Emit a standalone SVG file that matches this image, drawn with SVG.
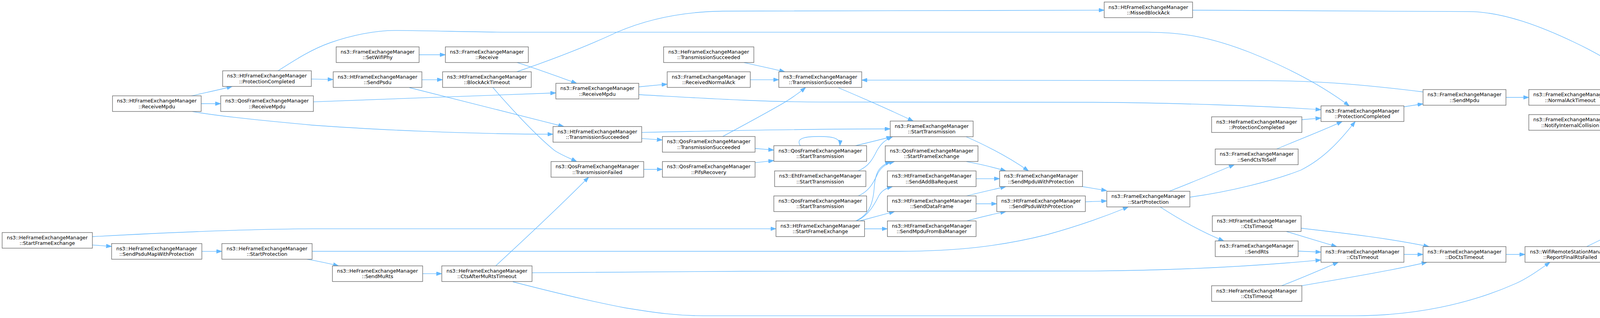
<svg xmlns="http://www.w3.org/2000/svg" width="4669" height="813" viewBox="0 0 4669 813">
<style>
.n rect{fill:#ffffff;stroke:#666666;stroke-width:1.33}
.t rect{fill:#999999;stroke:#666666;stroke-width:1.33}
text{font-family:"DejaVu Sans","Liberation Sans",sans-serif;font-size:12.75px;fill:#000000;text-anchor:middle}
.e path{fill:none;stroke:#63b8ff;stroke-width:1.33;marker-end:url(#ah)}
</style>
<defs>
<marker id="ah" markerUnits="userSpaceOnUse" markerWidth="14" markerHeight="10" refX="14" refY="5" orient="auto" viewBox="0 0 14 10">
<path d="M0,0 L14,5 L0,10 z" fill="#63b8ff" stroke="#63b8ff" stroke-width="1"/>
</marker>
</defs>
<rect width="4669" height="813" fill="#ffffff"/>
<g id="edges" class="e">
<path d="M4356,301 C4400,317 4460,338 4508,359"/>
<path d="M4062,630.5 C4200,563 4380,475 4515,400"/>
<path d="M4126,261.5 L4184.5,267.5"/>
<path d="M4126,300.7 L4184.5,295"/>
<path d="M3053,26 C3400,28 3600,29 3760,29.6 C3850,30 3950,70 4030,108 C4120,150 4200,205 4273,260.8"/>
<path d="M3855.2,650.5 L3904,650.5"/>
<path d="M1313,720.5 C1420,748 1520,772 1600,787 C1680,800 1730,807 1800,807.3 L3470,807.3 C3620,807 3760,778 3880,725 C3910,712 3940,690 3968,670.5"/>
<path d="M3855.2,249 L3913.7,249"/>
<path d="M3594,273 L3643,265.5"/>
<path d="M3643,235 C3520,220 3400,207 3250,206.4 L2206,204.8"/>
<path d="M711.7,181 C760,150 800,125 846,109 C900,90 960,78 1010,77.8 C1100,78 1200,82 1300,82.4 L2940,82.4 C3030,83 3100,95 3200,134 C3290,170 3380,215 3454,270.6"/>
<path d="M1635.5,242 C1800,251 1950,260.8 2100,260.8 L2800,261.5 C3000,263 3250,271 3381.7,280.5"/>
<path d="M3046,504 C3150,490 3260,462 3330,435 C3390,405 3430,360 3469.5,310.6"/>
<path d="M3268,381 C3330,355 3390,332 3436,310.6"/>
<path d="M3332,306 L3381.7,301.8"/>
<path d="M2993,489 C3050,467 3110,442 3160,421"/>
<path d="M2970,529 C3010,555 3070,590 3133,616"/>
<path d="M3293.5,592 C3340,606 3380,618 3422,630.5"/>
<path d="M3330.7,583.5 C3450,597 3560,610 3658,630.5"/>
<path d="M3323,642 L3381.7,644.5"/>
<path d="M3280.7,730.5 C3330,712 3380,690 3426,670.5"/>
<path d="M3332,730.5 C3440,712 3560,692 3653,670.5"/>
<path d="M3594,650.5 L3643,650.5"/>
<path d="M1362,697.4 C1500,695.5 1700,693.5 1900,693.5 L2800,692.8 C3000,691 3200,682 3381.7,664.7"/>
<path d="M236.7,605 C400,596 600,586 800,584.8 L1986.5,584.8"/>
<path d="M236.7,626.3 L285.7,630"/>
<path d="M516.3,642.6 L568,642.6"/>
<path d="M799,642.5 L2300,642.5 C2450,642 2560,630 2680,600 C2760,578 2830,553 2888.5,529"/>
<path d="M785.7,662.6 C810,667 840,673 866.7,679.7"/>
<path d="M1082,699.7 L1131,699.7"/>
<path d="M1269,679.7 C1320,632 1400,560 1507,453"/>
<path d="M1262,224 C1300,268 1370,345 1420,385 C1440,398 1460,405 1476.4,413"/>
<path d="M1323,183.5 C1420,150 1510,115 1580,82 C1650,52 1740,30 1850,28.5 L2826.7,26"/>
<path d="M1072.3,140 L1140.2,140"/>
<path d="M1323.4,159.7 C1380,178 1440,200 1476.4,213"/>
<path d="M802.4,260.3 L1423,237.5"/>
<path d="M489.8,245.2 C520,238 560,230 594.4,221"/>
<path d="M514.3,265 L565,265"/>
<path d="M492.3,285.2 C560,296.6 650,306 800,320 C950,331 1200,343 1415.7,343.2"/>
<path d="M797,202.2 L853,203.2"/>
<path d="M1080,203.8 L1133,203.8"/>
<path d="M1048,224 C1150,250 1300,287 1443.3,323.5"/>
<path d="M1635.5,222 L1708,215.2"/>
<path d="M1904.9,160.2 C1940,168 1975,175 2009,183.5"/>
<path d="M1920.7,203.8 L1993.7,203.8"/>
<path d="M1850,349 C1900,322 1960,290 2004,264.4 C2025,252 2045,238 2062.5,223.5"/>
<path d="M2146.7,224.5 C2200,247 2280,282 2338,309.5"/>
<path d="M1642.7,338.6 C1900,333 2100,329.5 2279,329.5"/>
<path d="M1642.7,354.1 L1695.7,357.8"/>
<path d="M1933,379.5 L1981,383.7"/>
<path d="M1647.8,433 L1695.7,433"/>
<path d="M1933,415.8 L1981,410.6"/>
<path d="M2049,372.5 C2035,352 2065,349 2097,349 C2130,349 2152,352 2150,372.5"/>
<path d="M2189.3,372.7 C2220,365 2250,358 2283,349.5"/>
<path d="M2196.7,437 C2225,425 2235,405 2245,385 C2255,368 2265,358 2285,349.5"/>
<path d="M2196.7,501 C2228,488 2238,462 2248,442 C2258,425 2270,418 2290,412.8"/>
<path d="M2190,565 C2225,550 2235,520 2238,480 C2241,440 2250,425 2280,412.8"/>
<path d="M2193,565 C2225,550 2240,520 2250,500 C2258,487 2268,481 2285,477"/>
<path d="M2200,565 C2230,557 2260,549 2290,540.9"/>
<path d="M2213.3,585 L2271.7,585"/>
<path d="M2472,349 C2520,370 2580,400 2633,437"/>
<path d="M2474.2,413.2 C2510,420 2545,428 2575,437"/>
<path d="M2498.7,456.8 L2559,456.8"/>
<path d="M2474.2,500.9 C2510,492 2545,484 2575,477"/>
<path d="M2498.7,521 L2551.7,521"/>
<path d="M2474.2,564.8 C2510,555 2545,547 2575,540.9"/>
<path d="M2771,477 L2833.4,487.4"/>
<path d="M2778.3,515.9 L2833.4,513.8"/>
</g>
<g id="node-HeSFE" class="n"><rect x="5.5" y="594.5" width="231" height="40"/><text x="121" y="611.8">ns3::HeFrameExchangeManager</text><text x="121" y="626">::StartFrameExchange</text></g>
<g id="node-HtRM" class="n"><rect x="288" y="245" width="227" height="40"/><text x="401.5" y="262.3">ns3::HtFrameExchangeManager</text><text x="401.5" y="276.5">::ReceiveMpdu</text></g>
<g id="node-HeSPMWP" class="n"><rect x="285.7" y="622.7" width="231" height="40"/><text x="401.2" y="640">ns3::HeFrameExchangeManager</text><text x="401.2" y="654.2">::SendPsduMapWithProtection</text></g>
<g id="node-HtPC" class="n"><rect x="570" y="181" width="227" height="40"/><text x="683.5" y="198.3">ns3::HtFrameExchangeManager</text><text x="683.5" y="212.5">::ProtectionCompleted</text></g>
<g id="node-QosRM" class="n"><rect x="565" y="245" width="237.3" height="40"/><text x="683.6" y="262.3">ns3::QosFrameExchangeManager</text><text x="683.6" y="276.5">::ReceiveMpdu</text></g>
<g id="node-HeSP" class="n"><rect x="568" y="622.7" width="231" height="40"/><text x="683.5" y="640">ns3::HeFrameExchangeManager</text><text x="683.5" y="654.2">::StartProtection</text></g>
<g id="node-SetWifiPhy" class="n"><rect x="860.6" y="119.8" width="212.3" height="40"/><text x="966.7" y="137.1">ns3::FrameExchangeManager</text><text x="966.7" y="151.3">::SetWifiPhy</text></g>
<g id="node-SendPsdu" class="n"><rect x="853" y="183.5" width="227" height="40"/><text x="966.5" y="200.8">ns3::HtFrameExchangeManager</text><text x="966.5" y="215">::SendPsdu</text></g>
<g id="node-SendMuRts" class="n"><rect x="851" y="679.7" width="231" height="40"/><text x="966.5" y="697">ns3::HeFrameExchangeManager</text><text x="966.5" y="711.2">::SendMuRts</text></g>
<g id="node-Receive" class="n"><rect x="1140.2" y="119.8" width="212.3" height="40"/><text x="1246.3" y="137.1">ns3::FrameExchangeManager</text><text x="1246.3" y="151.3">::Receive</text></g>
<g id="node-BAT" class="n"><rect x="1133" y="183.5" width="227" height="40"/><text x="1246.5" y="200.8">ns3::HtFrameExchangeManager</text><text x="1246.5" y="215">::BlockAckTimeout</text></g>
<g id="node-CtsAMRT" class="n"><rect x="1131" y="679.7" width="231" height="40"/><text x="1246.5" y="697">ns3::HeFrameExchangeManager</text><text x="1246.5" y="711.2">::CtsAfterMuRtsTimeout</text></g>
<g id="node-FemRM" class="n"><rect x="1423" y="213" width="212.3" height="40"/><text x="1529.1" y="230.3">ns3::FrameExchangeManager</text><text x="1529.1" y="244.5">::ReceiveMpdu</text></g>
<g id="node-HtTS" class="n"><rect x="1415.7" y="323.5" width="227" height="40"/><text x="1529.2" y="340.8">ns3::HtFrameExchangeManager</text><text x="1529.2" y="355">::TransmissionSucceeded</text></g>
<g id="node-QosTF" class="n"><rect x="1410.6" y="413" width="237.3" height="40"/><text x="1529.2" y="430.3">ns3::QosFrameExchangeManager</text><text x="1529.2" y="444.5">::TransmissionFailed</text></g>
<g id="node-HeTS" class="n"><rect x="1698.8" y="119.8" width="231" height="40"/><text x="1814.3" y="137.1">ns3::HeFrameExchangeManager</text><text x="1814.3" y="151.3">::TransmissionSucceeded</text></g>
<g id="node-RNA" class="n"><rect x="1708" y="183.5" width="212.7" height="40"/><text x="1814.3" y="200.8">ns3::FrameExchangeManager</text><text x="1814.3" y="215">::ReceivedNormalAck</text></g>
<g id="node-QosTS" class="n"><rect x="1695.7" y="349" width="237.3" height="40"/><text x="1814.3" y="366.3">ns3::QosFrameExchangeManager</text><text x="1814.3" y="380.5">::TransmissionSucceeded</text></g>
<g id="node-PifsRec" class="n"><rect x="1695.7" y="413" width="237.3" height="40"/><text x="1814.3" y="430.3">ns3::QosFrameExchangeManager</text><text x="1814.3" y="444.5">::PifsRecovery</text></g>
<g id="node-FemTS" class="n"><rect x="1993.7" y="183.5" width="212.3" height="40"/><text x="2099.8" y="200.8">ns3::FrameExchangeManager</text><text x="2099.8" y="215">::TransmissionSucceeded</text></g>
<g id="node-QosST1" class="n"><rect x="1981" y="372.5" width="237.5" height="40"/><text x="2099.8" y="389.8">ns3::QosFrameExchangeManager</text><text x="2099.8" y="404">::StartTransmission</text></g>
<g id="node-EhtST" class="n"><rect x="1983" y="437" width="233.6" height="40"/><text x="2099.8" y="454.3">ns3::EhtFrameExchangeManager</text><text x="2099.8" y="468.5">::StartTransmission</text></g>
<g id="node-QosST2" class="n"><rect x="1981" y="500.9" width="237.5" height="40"/><text x="2099.8" y="518.2">ns3::QosFrameExchangeManager</text><text x="2099.8" y="532.4">::StartTransmission</text></g>
<g id="node-HtSFE" class="n"><rect x="1986.5" y="564.8" width="226.8" height="40"/><text x="2099.9" y="582.1">ns3::HtFrameExchangeManager</text><text x="2099.9" y="596.3">::StartFrameExchange</text></g>
<g id="node-FemST" class="n"><rect x="2279" y="309.5" width="212.3" height="40"/><text x="2385.1" y="326.8">ns3::FrameExchangeManager</text><text x="2385.1" y="341">::StartTransmission</text></g>
<g id="node-QosSFE" class="n"><rect x="2266.3" y="372.8" width="237.3" height="40"/><text x="2384.9" y="390.1">ns3::QosFrameExchangeManager</text><text x="2384.9" y="404.3">::StartFrameExchange</text></g>
<g id="node-HtSABR" class="n"><rect x="2271.7" y="437" width="227" height="40"/><text x="2385.2" y="454.3">ns3::HtFrameExchangeManager</text><text x="2385.2" y="468.5">::SendAddBaRequest</text></g>
<g id="node-HtSDF" class="n"><rect x="2271.7" y="500.9" width="227" height="40"/><text x="2385.2" y="518.2">ns3::HtFrameExchangeManager</text><text x="2385.2" y="532.4">::SendDataFrame</text></g>
<g id="node-HtSMFBM" class="n"><rect x="2271.7" y="564.8" width="227" height="40"/><text x="2385.2" y="582.1">ns3::HtFrameExchangeManager</text><text x="2385.2" y="596.3">::SendMpduFromBaManager</text></g>
<g id="node-SMWP" class="n"><rect x="2559" y="437" width="212.3" height="40"/><text x="2665.1" y="454.3">ns3::FrameExchangeManager</text><text x="2665.1" y="468.5">::SendMpduWithProtection</text></g>
<g id="node-HtSPWP" class="n"><rect x="2551.7" y="500.9" width="226.8" height="40"/><text x="2665.1" y="518.2">ns3::HtFrameExchangeManager</text><text x="2665.1" y="532.4">::SendPsduWithProtection</text></g>
<g id="node-MissedBA" class="n"><rect x="2826.7" y="5.2" width="226.3" height="40"/><text x="2939.8" y="22.5">ns3::HtFrameExchangeManager</text><text x="2939.8" y="36.7">::MissedBlockAck</text></g>
<g id="node-FemSP" class="n"><rect x="2833.4" y="489" width="212.7" height="40"/><text x="2939.8" y="506.3">ns3::FrameExchangeManager</text><text x="2939.8" y="520.5">::StartProtection</text></g>
<g id="node-HePC" class="n"><rect x="3101.7" y="298.6" width="231" height="40"/><text x="3217.2" y="315.9">ns3::HeFrameExchangeManager</text><text x="3217.2" y="330.1">::ProtectionCompleted</text></g>
<g id="node-SendCtsToSelf" class="n"><rect x="3111" y="381" width="212.3" height="40"/><text x="3217.1" y="398.3">ns3::FrameExchangeManager</text><text x="3217.1" y="412.5">::SendCtsToSelf</text></g>
<g id="node-HtCtsTO" class="n"><rect x="3103.5" y="551.7" width="227.3" height="40"/><text x="3217.1" y="569">ns3::HtFrameExchangeManager</text><text x="3217.1" y="583.2">::CtsTimeout</text></g>
<g id="node-SendRts" class="n"><rect x="3111" y="616" width="212.3" height="40"/><text x="3217.1" y="633.3">ns3::FrameExchangeManager</text><text x="3217.1" y="647.5">::SendRts</text></g>
<g id="node-HeCtsTO" class="n"><rect x="3101.7" y="730.5" width="231" height="40"/><text x="3217.2" y="747.8">ns3::HeFrameExchangeManager</text><text x="3217.2" y="762">::CtsTimeout</text></g>
<g id="node-FemPC" class="n"><rect x="3381.7" y="270.6" width="212.3" height="40"/><text x="3487.8" y="287.9">ns3::FrameExchangeManager</text><text x="3487.8" y="302.1">::ProtectionCompleted</text></g>
<g id="node-FemCtsTO" class="n"><rect x="3381.7" y="630.5" width="212.3" height="40"/><text x="3487.8" y="647.8">ns3::FrameExchangeManager</text><text x="3487.8" y="662">::CtsTimeout</text></g>
<g id="node-SendMpdu" class="n"><rect x="3643" y="229" width="212.3" height="40"/><text x="3749.1" y="246.3">ns3::FrameExchangeManager</text><text x="3749.1" y="260.5">::SendMpdu</text></g>
<g id="node-DoCtsTO" class="n"><rect x="3643" y="630.5" width="212.3" height="40"/><text x="3749.1" y="647.8">ns3::FrameExchangeManager</text><text x="3749.1" y="662">::DoCtsTimeout</text></g>
<g id="node-NAT" class="n"><rect x="3913.7" y="229" width="212.3" height="40"/><text x="4019.8" y="246.3">ns3::FrameExchangeManager</text><text x="4019.8" y="260.5">::NormalAckTimeout</text></g>
<g id="node-NIC" class="n"><rect x="3913.7" y="293" width="212.3" height="40"/><text x="4019.8" y="310.3">ns3::FrameExchangeManager</text><text x="4019.8" y="324.5">::NotifyInternalCollision</text></g>
<g id="node-RFRF" class="n"><rect x="3904" y="630.5" width="231" height="40"/><text x="4019.5" y="647.8">ns3::WifiRemoteStationManager</text><text x="4019.5" y="662">::ReportFinalRtsFailed</text></g>
<g id="node-RFDF" class="n"><rect x="4184.5" y="260.8" width="230.8" height="40"/><text x="4299.9" y="278.1">ns3::WifiRemoteStationManager</text><text x="4299.9" y="292.3">::ReportFinalDataFailed</text></g>
<g id="node-Target" class="t"><rect x="4464.3" y="359.3" width="199" height="40"/><text x="4563.8" y="376.6">ns3::WifiRemoteStationInfo</text><text x="4563.8" y="390.8">::NotifyTxFailed</text></g>
</svg>
